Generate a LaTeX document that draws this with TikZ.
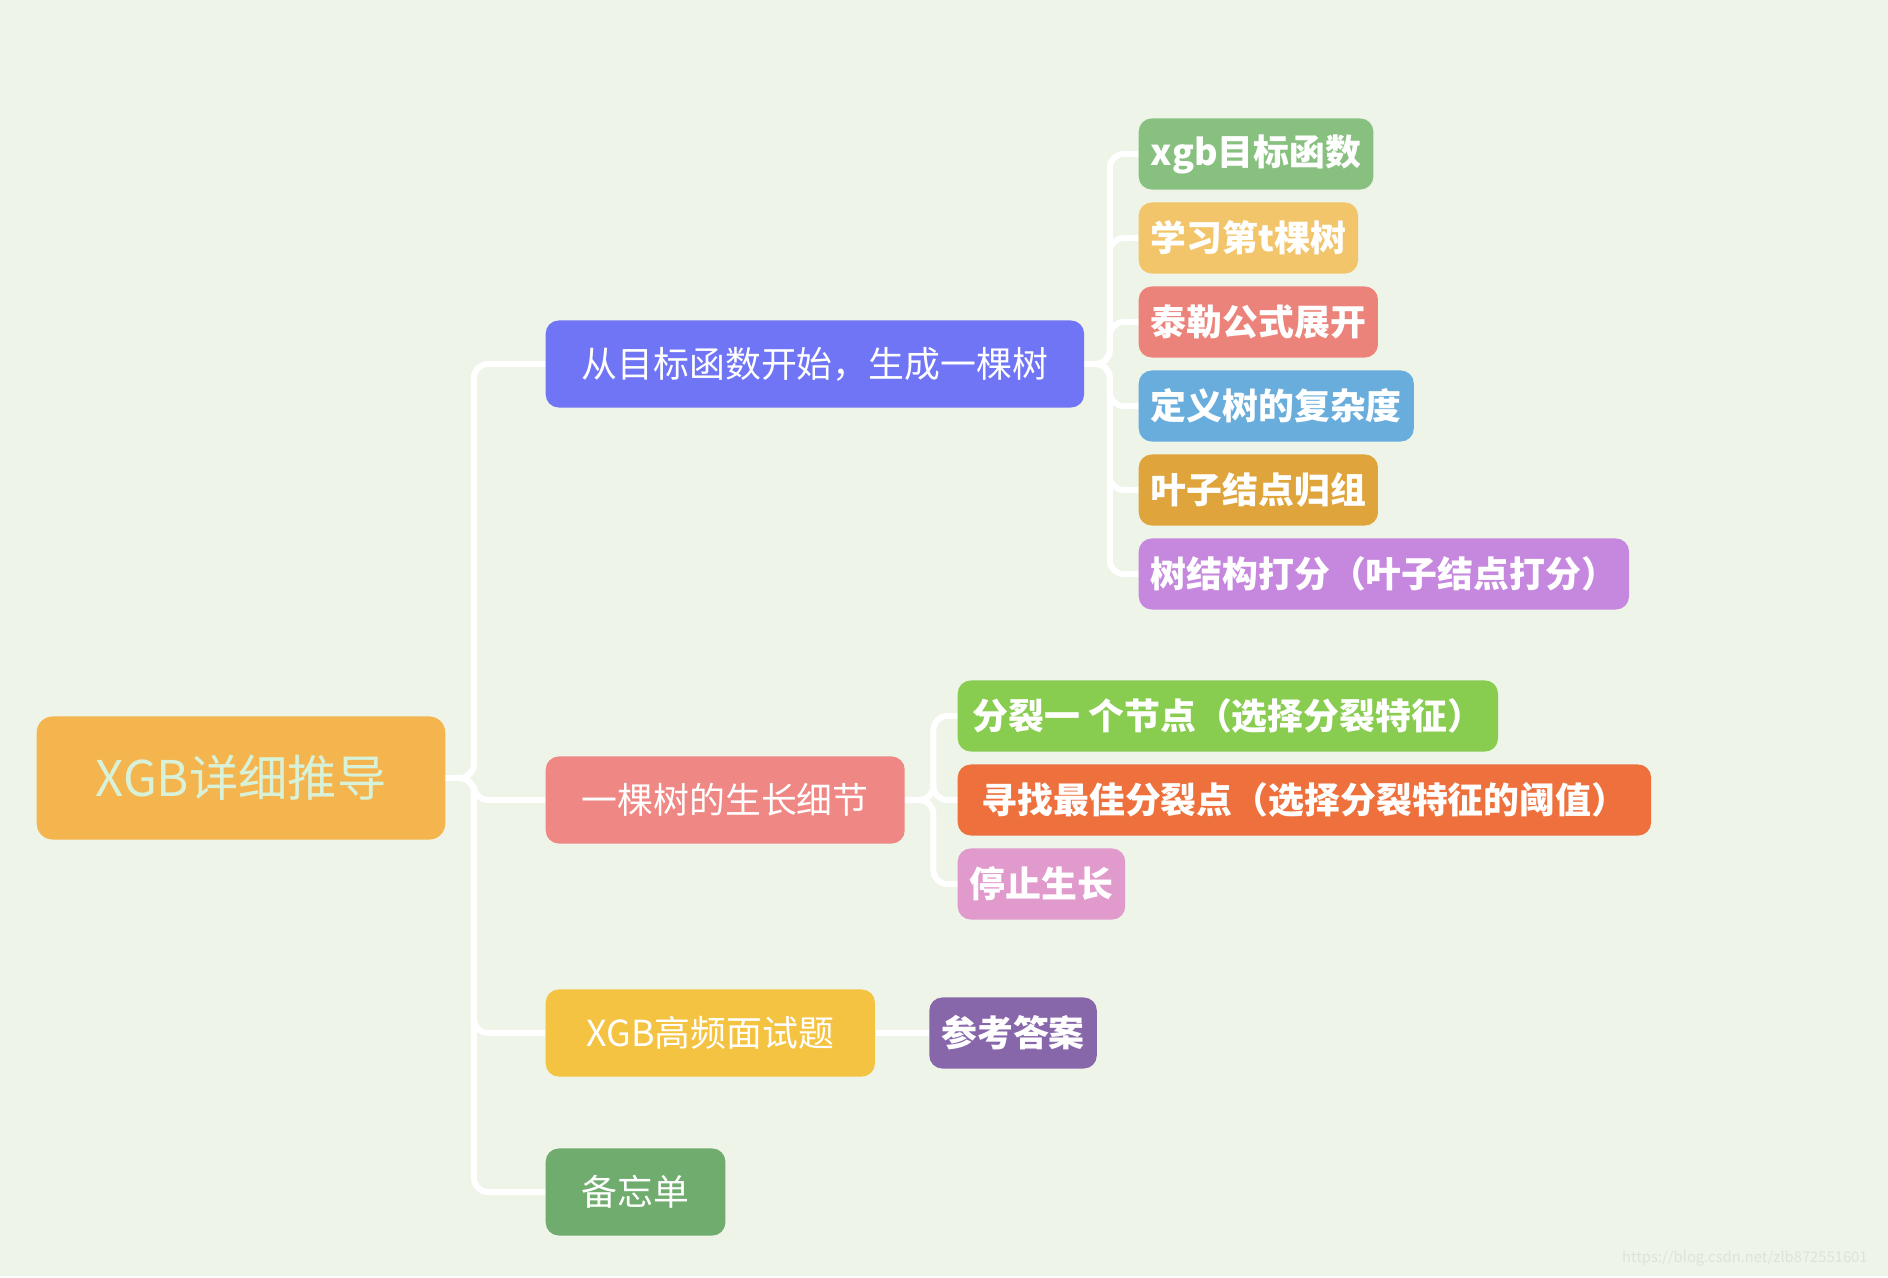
\documentclass[tikz,border=0pt]{standalone}
\usepackage{fontspec}
\setmainfont{Noto Sans CJK SC}
\usepackage{xcolor}
\usetikzlibrary{positioning}
\definecolor{bgGreen}{HTML}{EEF4E8}
\definecolor{rootOrange}{HTML}{F4B54F}
\definecolor{rootText}{HTML}{D8F2DA}
\definecolor{topBlue}{HTML}{6F75F5}
\definecolor{topPink}{HTML}{EF8884}
\definecolor{topYellow}{HTML}{F5C342}
\definecolor{topGreen}{HTML}{6FAC6D}
\definecolor{ansPurple}{HTML}{8866AA}
\definecolor{lfGreen}{HTML}{88C080}
\definecolor{lfSand}{HTML}{F2C56A}
\definecolor{lfRed}{HTML}{EC837A}
\definecolor{lfBlue}{HTML}{68ADDB}
\definecolor{lfOchre}{HTML}{DFA43C}
\definecolor{lfViolet}{HTML}{C688DE}
\definecolor{lfLime}{HTML}{88CC50}
\definecolor{lfOrange}{HTML}{EE703C}
\definecolor{lfRose}{HTML}{E09ACC}
\definecolor{markGray}{HTML}{DDE3D8}

\begin{document}
\begin{tikzpicture}[x=0.01cm, y=-0.01cm,
  rootbox/.style={fill=rootOrange,text=rootText,rounded corners=0.16cm,anchor=west,
    minimum height=1.23cm,inner xsep=0.59cm,font=\fontsize{14}{16}\selectfont},
  topic/.style={text=white,rounded corners=0.13cm,anchor=west,
    minimum height=0.87cm,inner xsep=0.36cm,font=\fontsize{10.2}{12}\selectfont},
  leaf/.style={text=white,rounded corners=0.13cm,anchor=west,
    minimum height=0.71cm,inner xsep=0.12cm,font=\fontsize{10.2}{12}\selectfont\bfseries},
  link/.style={draw=white,line width=1.7pt,rounded corners=0.14cm}]
\fill[bgGreen] (0,0) rectangle (1888,1276);
% root and its four topics
\node[rootbox] (root) at (36,778) {XGB详细推导};
\node[topic,fill=topBlue] (b1) at (545,364) {从目标函数开始，生成一棵树};
\node[topic,fill=topPink] (b2) at (545,800) {一棵树的生长细节};
\node[topic,fill=topYellow,minimum width=3.29cm] (b3) at (545,1033) {XGB高频面试题};
\node[topic,fill=topGreen] (b4) at (545,1192) {备忘单};
\node[leaf,fill=ansPurple,right=0.53cm of b3] (ans) {参考答案};
% leaves of the first topic
\node[leaf,fill=lfGreen] (l1) at (1138,154) {xgb目标函数};
\node[leaf,fill=lfSand] (l2) at (1138,238) {学习第t棵树};
\node[leaf,fill=lfRed] (l3) at (1138,322) {泰勒公式展开};
\node[leaf,fill=lfBlue] (l4) at (1138,406) {定义树的复杂度};
\node[leaf,fill=lfOchre] (l5) at (1138,490) {叶子结点归组};
\node[leaf,fill=lfViolet] (l6) at (1138,574) {树结构打分（叶子结点打分）};
% leaves of the second topic
\node[leaf,fill=lfLime,minimum width=5.40cm] (s1) at (957,716) {分裂一 个节点（选择分裂特征）};
\node[leaf,fill=lfOrange,minimum width=6.93cm] (s2) at (957,800) {寻找最佳分裂点（选择分裂特征的阈值）};
\node[leaf,fill=lfRose] (s3) at (957,884) {停止生长};
% connectors
\foreach \t in {b1,b2,b3,b4}
  \draw[link] (root.east) -- ++(28,0) |- (\t.west);
\foreach \t in {l1,l2,l3,l4,l5,l6}
  \draw[link] (b1.east) -- ++(25,0) |- (\t.west);
\foreach \t in {s1,s2,s3}
  \draw[link] (b2.east) -- ++(28,0) |- (\t.west);
\draw[link] (b3) -- (ans);
\node[text=markGray,font=\fontsize{4.2}{5}\selectfont,anchor=east] (mark) at (1880,1258) {https://blog.csdn.net/zlb872551601};
\end{tikzpicture}
\end{document}
